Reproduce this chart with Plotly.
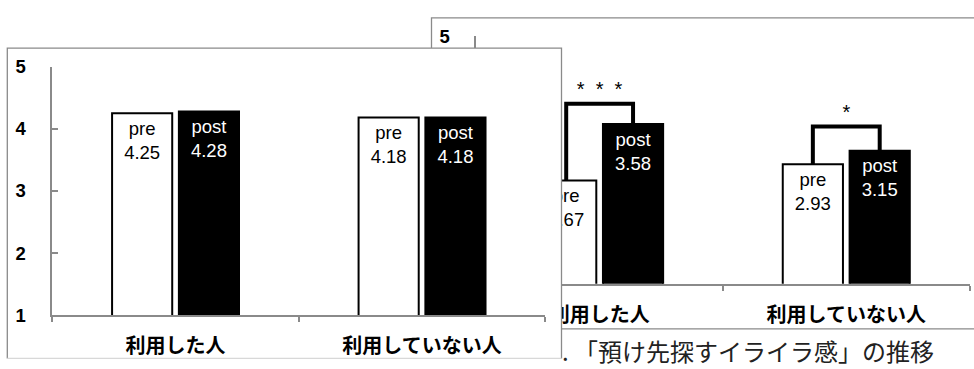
import plotly.graph_objects as go

# ---------------- data ----------------
categories = ["利用した人", "利用していない人"]
y_ticks = [1, 2, 3, 4, 5]
series_names = ["pre", "post"]

# front chart (left, on top)
front_pre = [4.25, 4.18]
front_post = [4.28, 4.18]

# back chart (right, partly hidden)
back_pre = [2.67, 2.93]
back_post = [3.58, 3.15]
back_sig = ["*\u00a0\u00a0*\u00a0\u00a0*", "*"]
caption = ". 「預け先探すイライラ感」の推移"

# ---------------- style ----------------
W, H = 974, 369
GRAY = "#8a8a8a"
LATIN = "Liberation Sans, Arial, sans-serif"
CJK = "Noto Sans CJK JP, sans-serif"
BAR_W = 0.244
SHIFT = 0.1355
TXT_DROP = 0.47
BRACKET_PAD = [0.33, 0.39]
SIG_PAD = 0.21


def fx(px):
    return px / W


def fy(py):
    return 1 - py / H


idx = list(range(len(categories)))
fig = go.Figure()


def add_bars(xa, ya, pre, post):
    fig.add_trace(go.Bar(
        x=idx, y=pre, width=BAR_W, offset=-SHIFT - BAR_W / 2,
        marker=dict(color="white", line=dict(color="black", width=2)),
        xaxis=xa, yaxis=ya, hoverinfo="skip", name=series_names[0]))
    fig.add_trace(go.Bar(
        x=idx, y=post, width=BAR_W, offset=SHIFT - BAR_W / 2,
        marker=dict(color="black", line=dict(color="black", width=2)),
        xaxis=xa, yaxis=ya, hoverinfo="skip", name=series_names[1]))
    fig.add_trace(go.Scatter(
        x=[i - SHIFT for i in idx], y=[v - TXT_DROP for v in pre],
        mode="text", text=[f"{series_names[0]}<br>{v:.2f}" for v in pre],
        textposition="middle center",
        textfont=dict(family=LATIN, size=18.5, color="black"),
        xaxis=xa, yaxis=ya, hoverinfo="skip"))
    fig.add_trace(go.Scatter(
        x=[i + SHIFT for i in idx], y=[v - TXT_DROP for v in post],
        mode="text", text=[f"{series_names[1]}<br>{v:.2f}" for v in post],
        textposition="middle center",
        textfont=dict(family=LATIN, size=18.5, color="white"),
        xaxis=xa, yaxis=ya, hoverinfo="skip"))


# ---- back chart (x, y) ----
add_bars("x", "y", back_pre, back_post)
for i in idx:
    level = max(back_pre[i], back_post[i]) + BRACKET_PAD[i]
    fig.add_trace(go.Scatter(
        x=[i - SHIFT, i - SHIFT, i + SHIFT, i + SHIFT],
        y=[back_pre[i], level, level, back_post[i]],
        mode="lines", line=dict(color="black", width=4),
        xaxis="x", yaxis="y", hoverinfo="skip"))
    fig.add_trace(go.Scatter(
        x=[i], y=[level + SIG_PAD], mode="text", text=[back_sig[i]],
        textposition="middle center",
        textfont=dict(family=LATIN, size=20, color="black"),
        xaxis="x", yaxis="y", hoverinfo="skip"))

# ---- occluder (front chart's white box) ----
fig.add_trace(go.Scatter(
    x=[0, 1, 1, 0, 0], y=[0, 0, 1, 1, 0], mode="lines", fill="toself",
    fillcolor="white", line=dict(width=0, color="white"),
    xaxis="x2", yaxis="y2", hoverinfo="skip"))

# ---- front chart (x3, y3) ----
add_bars("x3", "y3", front_pre, front_post)


def xaxis_style(dom, anchor):
    return dict(
        domain=dom, anchor=anchor, range=[-0.5, len(categories) - 0.5],
        tickmode="array", tickvals=idx, ticktext=categories, ticks="",
        showline=True, linecolor=GRAY, linewidth=1.5,
        minor=dict(tickmode="array",
                   tickvals=[i - 0.5 for i in range(len(categories) + 1)],
                   ticks="outside", ticklen=5, tickcolor=GRAY, tickwidth=1.5,
                   showgrid=False),
        tickfont=dict(family=CJK, size=20, color="black", weight="bold"),
        ticklabelstandoff=12,
        showgrid=False, zeroline=False, fixedrange=True)


def yaxis_style(dom, anchor):
    return dict(
        domain=dom, anchor=anchor, range=[y_ticks[0], y_ticks[-1]],
        tickmode="array", tickvals=y_ticks, ticks="inside", ticklen=6,
        tickcolor=GRAY, tickwidth=1.5,
        showline=True, linecolor=GRAY, linewidth=1.5,
        tickfont=dict(family=LATIN, size=18.5, color="black", weight="bold"),
        ticklabelstandoff=21,
        showgrid=False, zeroline=False, fixedrange=True)


fig.update_layout(
    width=W, height=H, margin=dict(l=0, r=0, t=0, b=0),
    paper_bgcolor="white", plot_bgcolor="white",
    showlegend=False, barmode="overlay",
    xaxis=xaxis_style([fx(476.3), fx(969.6)], "y"),
    yaxis=yaxis_style([fy(289.3), fy(26.7)], "x"),
    xaxis2=dict(domain=[fx(7.3), fx(561.5)], anchor="y2", range=[0, 1],
                visible=False, fixedrange=True),
    yaxis2=dict(domain=[fy(368.6), fy(39.3)], anchor="x2", range=[0, 1],
                visible=False, fixedrange=True),
    xaxis3=xaxis_style([fx(52.3), fx(545.3)], "y3"),
    yaxis3=yaxis_style([fy(322.7), fy(59.0)], "x3"),
    shapes=[
        # back chart frame (hidden where the front box covers it)
        dict(type="rect", xref="paper", yref="paper",
             x0=fx(431.5), x1=fx(990), y0=fy(337), y1=fy(7.3),
             line=dict(color=GRAY, width=1.3), layer="below"),
        # front chart frame
        dict(type="path", xref="paper", yref="paper",
             path=f"M {fx(7.3)},{fy(368.6)} L {fx(7.3)},{fy(39.3)} "
                  f"L {fx(561.5)},{fy(39.3)} L {fx(561.5)},{fy(368.6)}",
             line=dict(color=GRAY, width=1.3), layer="above"),
        dict(type="line", xref="paper", yref="paper",
             x0=fx(7.3), x1=fx(561.5), y0=fy(368.4), y1=fy(368.4),
             line=dict(color="#d8d8d8", width=1.3), layer="above"),
    ],
    annotations=[
        dict(text=caption, xref="paper", yref="paper",
             x=fx(936), y=fy(360), xanchor="right", yanchor="middle",
             showarrow=False,
             font=dict(family=CJK, size=24, color="#222222")),
    ],
)

fig.write_html("out.html")
